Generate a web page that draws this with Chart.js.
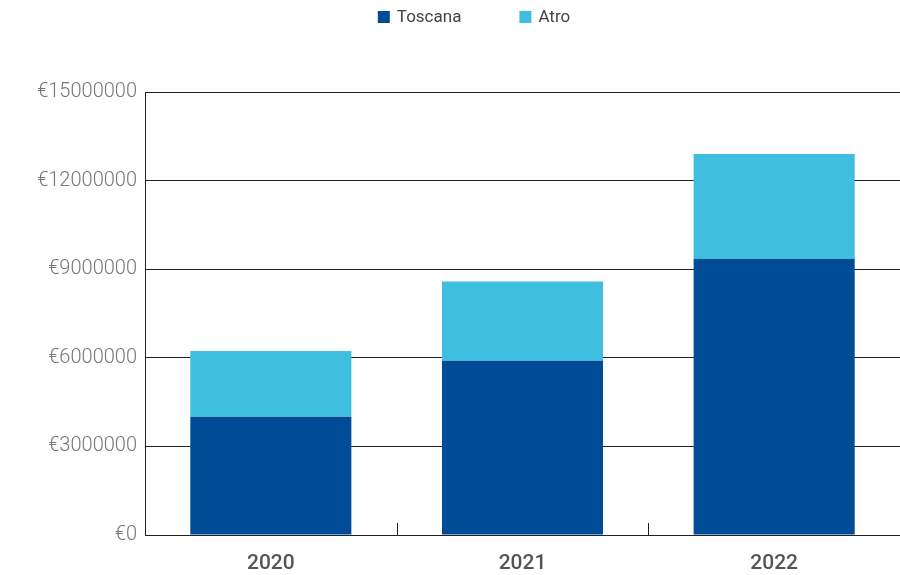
<!DOCTYPE html>
<html>
<head>
<meta charset="utf-8">
<script src="https://cdn.jsdelivr.net/npm/chart.js@4/dist/chart.umd.min.js"></script>
<style>
  body { margin: 0; background: #fff; }
  #wrap { width: 900px; height: 575px; position: relative; }
</style>
</head>
<body>
<div id="wrap"><canvas id="myChart"></canvas></div>
<script>
const years = ['2020', '2021', '2022'];
const toscana = [4000000, 5900000, 9350000];
const atro = [2230000, 2680000, 3550000];
const yMax = 15000000;
const yStep = 3000000;

// small upward ticks on the x axis between categories
const betweenTicks = {
    id: 'betweenTicks',
    afterDatasetsDraw(chart) {
        const x = chart.scales.x;
        const ctx = chart.ctx;
        const bottom = chart.chartArea.bottom;
        ctx.save();
        ctx.strokeStyle = '#222';
        ctx.lineWidth = 1;
        for (let i = 0; i < years.length - 1; i++) {
            const px = Math.round((x.getPixelForValue(i) + x.getPixelForValue(i + 1)) / 2) + 0.5;
            ctx.beginPath();
            ctx.moveTo(px, bottom);
            ctx.lineTo(px, bottom - 12);
            ctx.stroke();
        }
        ctx.restore();
    }
};

// legend at the very top, wide gap between items
const topLegend = {
    id: 'topLegend',
    afterDraw(chart) {
        const ctx = chart.ctx;
        const sets = chart.data.datasets;
        const box = 12, textGap = 7, itemGap = 58, y = 17;
        ctx.save();
        ctx.font = '400 17px Roboto';
        ctx.textBaseline = 'middle';
        const widths = sets.map(s => box + textGap + ctx.measureText(s.label).width);
        const total = widths.reduce((a, b) => a + b, 0) + itemGap * (sets.length - 1);
        let x = chart.width / 2 + 24 - total / 2;
        sets.forEach((s, i) => {
            ctx.fillStyle = s.backgroundColor;
            ctx.fillRect(x, y - box / 2, box, box);
            ctx.fillStyle = '#444';
            ctx.fillText(s.label, x + box + textGap, y + 1);
            x += widths[i] + itemGap;
        });
        ctx.restore();
    }
};

const data = {
    labels: years,
    datasets: [{
        label: 'Toscana',
        backgroundColor: '#004C97',
        data: toscana
    }, {
        label: 'Atro',
        backgroundColor: '#3FBEE0',
        data: atro
    }]
};

const config = {
    type: 'bar',
    data: data,
    plugins: [betweenTicks, topLegend],
    options: {
        responsive: true,
        maintainAspectRatio: false,
        animation: false,
        layout: { padding: { left: 0, right: -4, top: 92, bottom: 0 } },
        datasets: {
            bar: { categoryPercentage: 1, barPercentage: 0.64 }
        },
        plugins: {
            tooltip: { enabled: false },
            legend: { display: false }
        },
        scales: {
            x: {
                stacked: true,
                afterFit: scale => { scale.height = 40; },
                grid: { display: false },
                border: { display: true, color: '#222', width: 1 },
                ticks: {
                    color: '#555',
                    padding: 8,
                    font: { family: 'Roboto', size: 21, weight: '500' }
                }
            },
            y: {
                stacked: true,
                min: 0,
                max: yMax,
                afterFit: scale => { scale.width = 145; },
                grid: { color: '#222', lineWidth: 1, drawTicks: false },
                border: { display: true, color: '#222', width: 1 },
                ticks: {
                    stepSize: yStep,
                    padding: 8,
                    color: '#777',
                    font: { family: 'Roboto', size: 20, weight: '300' },
                    callback: v => '€' + v
                }
            }
        }
    }
};

new Chart(document.getElementById('myChart'), config);
</script>
</body>
</html>
